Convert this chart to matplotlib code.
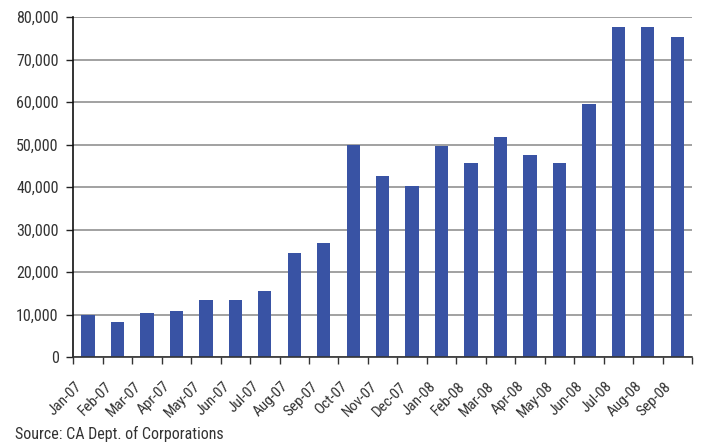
import matplotlib
matplotlib.use("Agg")
import matplotlib.pyplot as plt
import matplotlib.transforms as mtransforms
from matplotlib.ticker import FuncFormatter, NullFormatter

months = ["Jan-07", "Feb-07", "Mar-07", "Apr-07", "May-07", "Jun-07", "Jul-07",
          "Aug-07", "Sep-07", "Oct-07", "Nov-07", "Dec-07", "Jan-08", "Feb-08",
          "Mar-08", "Apr-08", "May-08", "Jun-08", "Jul-08", "Aug-08", "Sep-08"]
values = [10000, 8300, 10400, 10900, 13500, 13500, 15600,
          24500, 26900, 50000, 42700, 40300, 49700, 45700,
          51800, 47600, 45700, 59600, 77700, 77700, 75400]
y_ticks = [0, 10000, 20000, 30000, 40000, 50000, 60000, 70000, 80000]
source_note = "Source: CA Dept. of Corporations"

plt.rcParams["font.family"] = ["Roboto Condensed", "Liberation Sans", "DejaVu Sans"]

text_color = "#333333"
bar_color = "#3953A4"
DPI = 100

fig = plt.figure(figsize=(7.01, 4.47), dpi=DPI)
ax = fig.add_axes([73.3 / 701, 1 - 357.3 / 447, (692 - 73.3) / 701, (357.3 - 17.3) / 447])

x = list(range(len(months)))
ax.bar(x, values, width=0.45, color=bar_color, zorder=3)

ax.set_xlim(-0.5, len(months) - 0.5)
ax.set_ylim(0, 80000)
ax.set_yticks(y_ticks)
ax.yaxis.set_major_formatter(FuncFormatter(lambda v, p: f"{int(v):,}"))
ax.grid(axis="y", color="#9a9a9a", linewidth=1.3, zorder=0)

# tick marks sit at category boundaries; month labels hang below each bar
ax.set_xticks([i - 0.5 for i in range(len(months) + 1)])
ax.xaxis.set_major_formatter(NullFormatter())
ax.tick_params(axis="x", length=5, width=1, color="#333333", direction="out")

label_shift = mtransforms.ScaledTranslation(-13 / DPI, -22 / DPI, fig.dpi_scale_trans)
label_trans = ax.get_xaxis_transform() + label_shift
for xi, name in zip(x, months):
    ax.text(xi, 0, name, transform=label_trans, rotation=45,
            ha="right", va="top", rotation_mode="anchor",
            fontsize=11, color=text_color, clip_on=False)

ax.tick_params(axis="y", length=5, width=1, color="#222222", labelsize=11.5,
               labelcolor=text_color, pad=5.5)

for side in ("top", "right"):
    ax.spines[side].set_visible(False)
ax.spines["left"].set_color("#111111")
ax.spines["left"].set_linewidth(1.2)
ax.spines["bottom"].set_color("#333333")
ax.spines["bottom"].set_linewidth(1.2)
ax.spines["bottom"].set_zorder(4)

fig.text(15 / 701, 1 - 434 / 447, source_note, fontsize=11.5, color=text_color,
         ha="left", va="center")

fig.savefig("out.png", dpi=DPI)
